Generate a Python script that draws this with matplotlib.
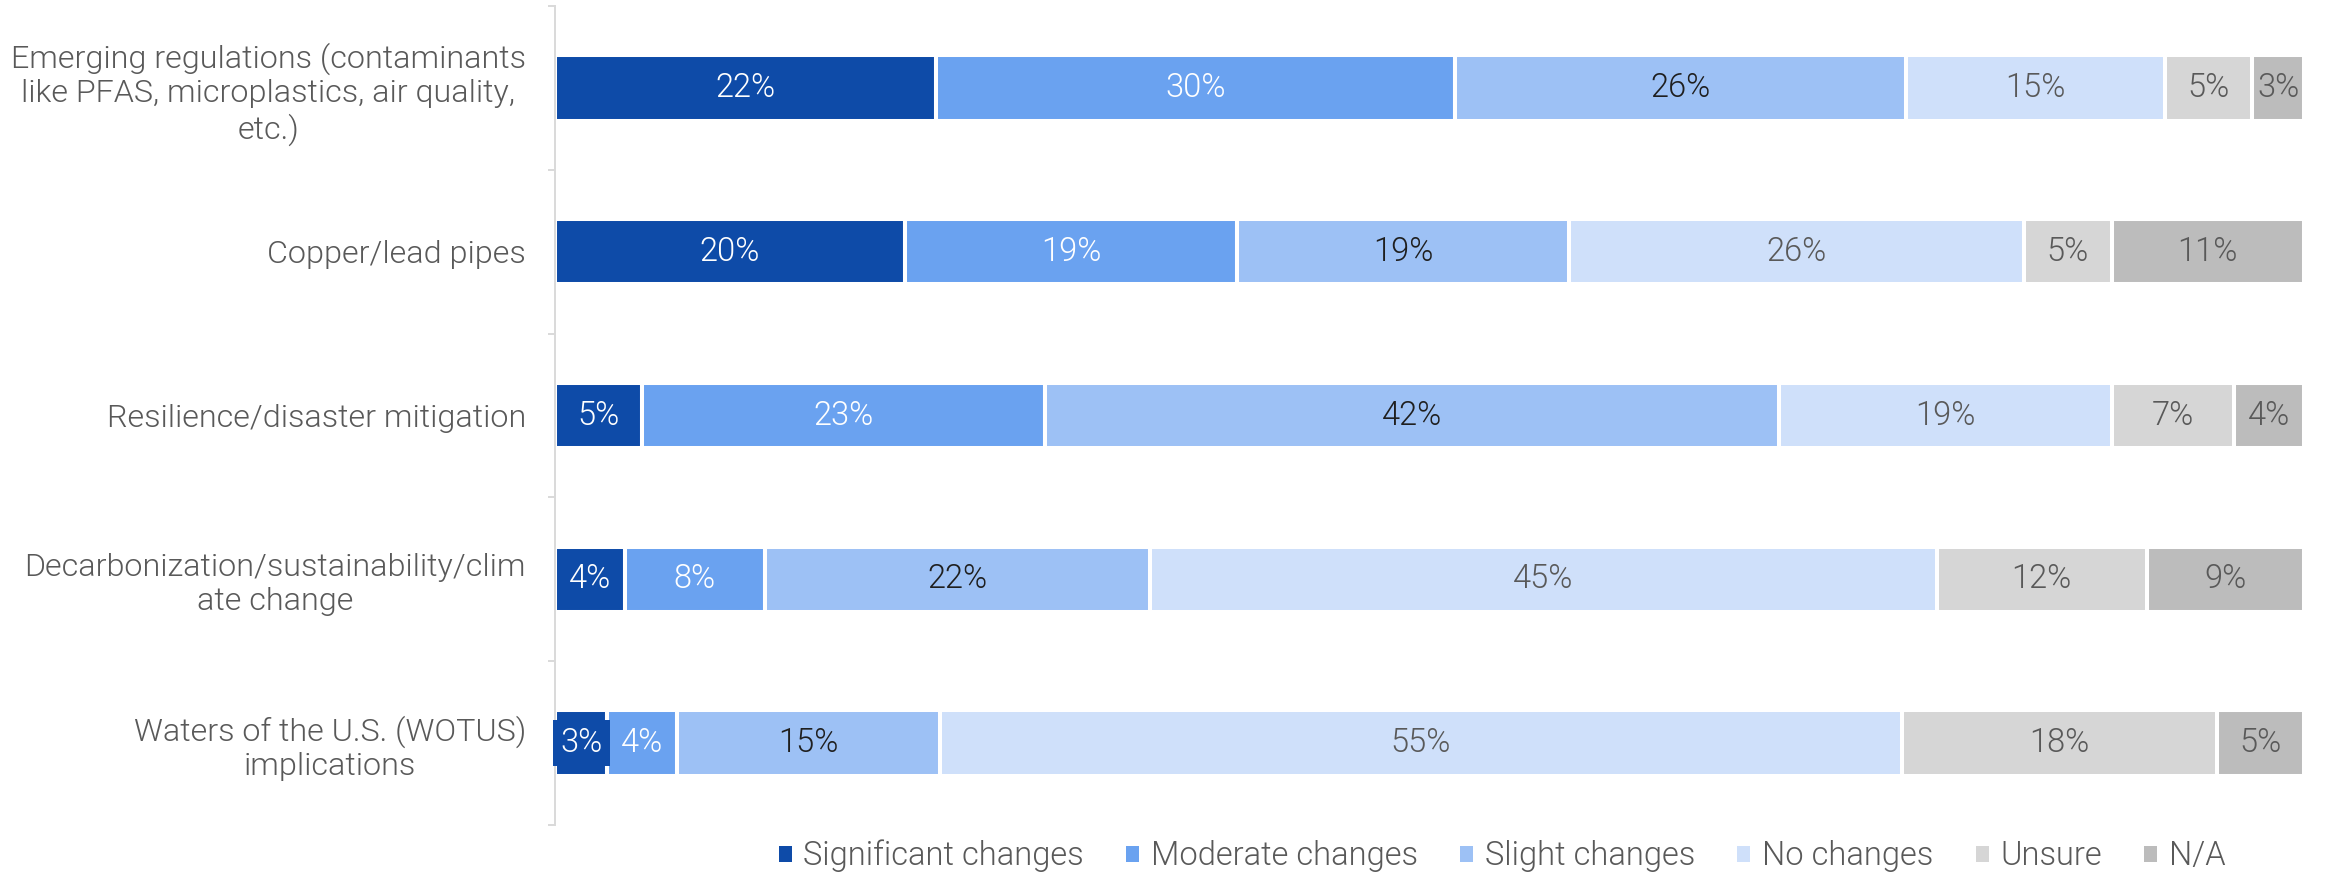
import matplotlib
matplotlib.use("Agg")
import matplotlib.pyplot as plt
import numpy as np
from matplotlib.patches import Patch

categories = [
    "Emerging regulations (contaminants\nlike PFAS, microplastics, air quality,\netc.)",
    "Copper/lead pipes",
    "Resilience/disaster mitigation",
    "Decarbonization/sustainability/clim\nate change",
    "Waters of the U.S. (WOTUS)\nimplications",
]
series_names = ["Significant changes", "Moderate changes", "Slight changes",
                "No changes", "Unsure", "N/A"]
significant = [22, 20, 5, 4, 3]
moderate = [30, 19, 23, 8, 4]
slight = [26, 19, 42, 22, 15]
no_changes = [15, 26, 19, 45, 55]
unsure = [5, 5, 7, 12, 18]
na = [3, 11, 4, 9, 5]

colors = ["#0E4BA8", "#6AA2F0", "#9DC1F5", "#CFE0FA", "#D6D6D6", "#BCBCBC"]
text_colors = ["white", "white", "#1F1F1F", "#595959", "#595959", "#595959"]

plt.rcParams['font.family'] = ['Roboto', 'DejaVu Sans']
FS = 23.5
W = 300

data = np.array([significant, moderate, slight, no_changes, unsure, na], dtype=float)
totals = data.sum(axis=0)
shares = data / totals * 100

fig = plt.figure(figsize=(23.28, 8.72), dpi=100)
ax = fig.add_axes([555/2328, 1 - 825/872, (2304-555)/2328, (825-6)/872])

y = np.arange(len(categories))
left = np.zeros(len(categories))
for i, name in enumerate(series_names):
    bars = ax.barh(y, shares[i], left=left, height=0.4, color=colors[i],
                   edgecolor="white", linewidth=2.9, label=name)
    for j, b in enumerate(bars):
        cx = left[j] + shares[i][j] / 2
        kw = {}
        if i == 0 and data[i][j] <= 3:
            kw['bbox'] = dict(boxstyle='square,pad=0.22', fc=colors[i], ec='none')
        ax.text(cx, y[j], f"{int(data[i][j])}%", ha='center', va='center',
                color=text_colors[i], fontsize=FS, fontweight=W, **kw)
    left += shares[i]

ax.set_xlim(0, 100)
ax.set_ylim(len(categories) - 0.5, -0.5)
ax.set_yticks(y)
ax.set_yticklabels(categories, fontsize=23.2, color="#595959", fontweight=W,
                   multialignment='center', linespacing=1.2)
ax.set_yticks(np.arange(-0.5, len(categories)), minor=True)
ax.tick_params(axis='y', which='major', length=0, pad=21)
ax.tick_params(axis='y', which='minor', length=5, width=1.4, color="#D9D9D9")
ax.set_xticks([])
for s in ['top', 'right', 'bottom']:
    ax.spines[s].set_visible(False)
ax.spines['left'].set_color("#D9D9D9")
ax.spines['left'].set_linewidth(1.4)

handles = [Patch(facecolor=c, edgecolor='none') for c in colors]
leg = fig.legend(handles, series_names, loc='center', bbox_to_anchor=(1502/2328, 1 - 856/872),
                 ncol=6, frameon=False, handlelength=0.4, handleheight=0.38,
                 handletextpad=0.35, columnspacing=1.3, prop={'weight': W, 'size': FS})
for t in leg.get_texts():
    t.set_color("#595959")

fig.savefig("out.png", dpi=100)
